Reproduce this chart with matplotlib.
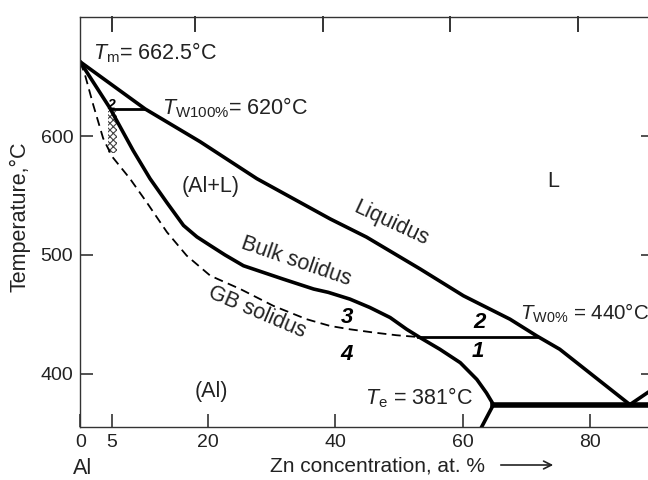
import matplotlib
matplotlib.use("Agg")
import matplotlib.pyplot as plt

plt.rcParams['font.family'] = ['Liberation Sans', 'DejaVu Sans']
plt.rcParams['mathtext.fontset'] = 'custom'
plt.rcParams['mathtext.rm'] = 'Liberation Sans'
plt.rcParams['mathtext.it'] = 'Liberation Sans:italic'
plt.rcParams['hatch.linewidth'] = 0.8

# --- curves (Zn at.%, temperature in C) ---
liq_x = [0.0, 10.2, 18.8, 27.7, 39.2, 44.9, 53.3, 60.1, 67.4, 71.6, 75.2, 86.2]
liq_t = [662.5, 622.8, 595.3, 564.2, 530.3, 515.0, 488.2, 465.6, 445.9, 431.8, 420.6, 374.0]

zn_side_x = [86.2, 89.0, 91.0]
zn_side_t = [374.0, 384.2, 391.0]

bulk_x = [0.0, 4.6, 8.3, 10.95, 13.6, 16.2, 18.3, 20.4, 22.7, 25.6, 31.8, 36.6,
          38.9, 42.3, 45.4, 48.6, 51.2, 53.3, 56.4, 59.6, 62.2, 63.7, 64.8, 63.0]
bulk_t = [662.5, 624.1, 587.9, 564.2, 544.0, 524.8, 515.2, 507.9, 500.0, 490.9,
          479.7, 471.3, 468.5, 462.8, 455.8, 447.3, 437.4, 430.4, 420.6, 409.3,
          395.2, 383.9, 374.0, 355.7]

gb_x = [0.0, 0.75, 2.05, 3.6, 5.0, 7.8, 10.4, 13.6, 16.7, 20.4, 25.1, 30.3,
        35.5, 39.2, 42.3, 46.0, 49.6, 53.0]
gb_t = [662.5, 651.6, 626.2, 598.1, 582.8, 564.2, 544.5, 519.2, 499.4, 482.5,
        471.3, 457.1, 445.9, 440.2, 437.4, 434.7, 432.4, 430.9]

tie100_x = [4.7, 10.2]
tie100_t = [622.8, 622.8]
tie0_x = [53.0, 71.6]
tie0_t = [430.9, 430.9]
eut_x = [64.8, 91.0]
eut_t = [374.0, 374.0]

hatch_x = [4.4, 5.7]
hatch_top = [621.0, 621.0]
hatch_bot = [586.0, 586.0]

bottom_ticks = [0, 5, 20, 40, 60, 80]
top_ticks = [5, 18, 38, 58, 78]
temp_ticks = [400, 500, 600]

fig = plt.figure(figsize=(6.48, 4.8), dpi=100)
W, H = 648.0, 480.0
x_max = 90.0
px_per = 6.377
left, bottom, top = 80.2, 427.2, 16.7
ax = fig.add_axes([left / W, (H - bottom) / H, x_max * px_per / W, (bottom - top) / H])
ax.set_xlim(0, x_max)
ax.set_ylim(355, 700.5)

spine_c = '#333333'
txt_c = '#222222'
for s in ax.spines.values():
    s.set_color(spine_c)
    s.set_linewidth(1.0)

ax.set_xticks(bottom_ticks)
ax.set_yticks(temp_ticks)
ax.tick_params(direction='in', length=9.5, width=1.2, color=spine_c,
               labelcolor=txt_c, labelsize=14, pad=5, top=False, right=True)
# top edge has its own tick spots (not the bottom ones)
tick_frac = 14.0 / (bottom - top)
for xt in top_ticks:
    ax.plot([xt, xt], [1 - tick_frac, 1], transform=ax.get_xaxis_transform(),
            color=spine_c, lw=1.4, clip_on=False, zorder=5)

lw = 2.6
ax.plot(liq_x, liq_t, color='black', lw=lw, solid_capstyle='round', solid_joinstyle='round')
ax.plot(zn_side_x, zn_side_t, color='black', lw=lw)
ax.plot(bulk_x, bulk_t, color='black', lw=lw, solid_joinstyle='round')
ax.plot(gb_x, gb_t, color='black', lw=1.3, ls=(0, (5, 3)))
ax.plot(tie100_x, tie100_t, color='black', lw=2.0)
ax.plot(tie0_x, tie0_t, color='black', lw=2.0)
ax.plot(eut_x, eut_t, color='black', lw=4.0)
ax.fill_between(hatch_x, hatch_bot, hatch_top, facecolor='none', edgecolor='#444444',
                hatch='xxxxx', linewidth=0)
ax.set_xlim(0, x_max)
ax.set_ylim(355, 700.5)

fs = 15.5
ax.text(2.05, 664.2, r'$T_\mathrm{m}$= 662.5°C', fontsize=fs, va='baseline', color=txt_c)
ax.text(12.9, 618.5, r'$T_\mathrm{W100\%}$= 620°C', fontsize=fs, va='baseline', color=txt_c)
ax.text(4.9, 626.0, '2', fontsize=10, ha='center', va='center', style='italic', weight='bold')
ax.text(20.4, 557.2, '(Al+L)', fontsize=fs, ha='center', va='center', color=txt_c)
ax.text(74.2, 561.4, 'L', fontsize=fs, ha='center', va='center', color=txt_c)
ax.text(48.8, 526.2, 'Liquidus', fontsize=fs, ha='center', va='center', rotation=-25,
        rotation_mode='anchor', color=txt_c)
ax.text(33.8, 494.3, 'Bulk solidus', fontsize=fs, ha='center', va='center', rotation=-19,
        rotation_mode='anchor', color=txt_c)
ax.text(27.8, 451.6, 'GB solidus', fontsize=fs, ha='center', va='center', rotation=-23,
        rotation_mode='anchor', color=txt_c)
for xx, tt, lab in [(41.8, 447.0, '3'), (41.8, 416.3, '4'), (62.6, 443.5, '2'), (62.4, 419.0, '1')]:
    ax.text(xx, tt, lab, fontsize=16, ha='center', va='center', style='italic', weight='bold')
ax.text(69.0, 445.7, r'$T_\mathrm{W0\%}$ = 440°C', fontsize=14.8, va='baseline', color=txt_c)
ax.text(44.7, 374.5, r'$T_\mathrm{e}$ = 381°C', fontsize=fs, va='baseline', color=txt_c)
ax.text(20.6, 385.3, '(Al)', fontsize=fs, ha='center', va='center', color=txt_c)

fig.text(20 / W, 1 - 217 / H, 'Temperature,°C', rotation=90, fontsize=fs,
         ha='center', va='center', color=txt_c)
fig.text(83 / W, 1 - 468 / H, 'Al', fontsize=fs, ha='center', va='center', color=txt_c)
fig.text(270 / W, 1 - 466 / H, 'Zn concentration, at. %', fontsize=15, ha='left',
         va='center', color=txt_c)
ax.annotate('', xy=(556 / W, 1 - 465 / H), xytext=(498 / W, 1 - 465 / H),
            xycoords='figure fraction', textcoords='figure fraction',
            arrowprops=dict(arrowstyle='->', lw=1.2, color=txt_c, mutation_scale=14))

fig.savefig('out.png', dpi=100)
